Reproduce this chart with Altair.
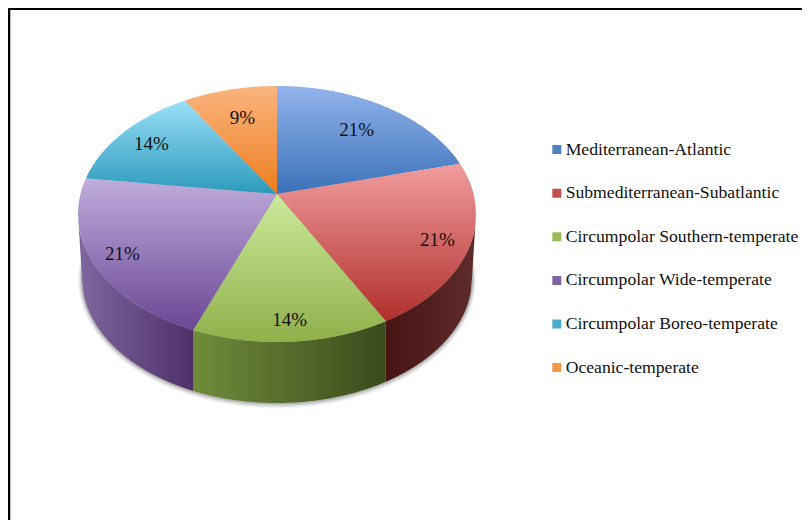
import numpy as np
import pandas as pd
import altair as alt

categories = ["Mediterranean-Atlantic", "Submediterranean-Subatlantic", "Circumpolar Southern-temperate",
              "Circumpolar Wide-temperate", "Circumpolar Boreo-temperate", "Oceanic-temperate"]
values = [21, 21, 14, 21, 14, 9]
legend_colors = ["#4F81BD", "#C0504D", "#9BBB59", "#8064A2", "#4BACC6", "#F79646"]
top_light = ["#93B3EC", "#F19D9D", "#CBEA9B", "#BFACDB", "#9ADFF8", "#FAB57F"]
top_dark = ["#3A72B8", "#B02F2C", "#8FB04A", "#6B4795", "#2C9ABB", "#ED7D1F"]
wall_left = {1: "#461412", 2: "#708C3A", 3: "#80679F"}
wall_right = {1: "#5E2C2A", 2: "#3A4A1C", 3: "#4F3069"}

# Projection of the tilted pie onto the picture
CX, CY, RX, RY = 277.0, 214.0, 199.0, 128.0
APEX_Y = 194.0
BX, BCY, BRY = 195.0, 278.0, 125.0
K = RY / RX
SHADE = [(1, 0.22), (2, 0.16), (3, 0.10), (4, 0.06)]
LABEL_REACH = [0.648, 0.876, 0.978, 0.905, 0.75, 0.63]

def ray(theta):
    return np.sin(theta), -K * np.cos(theta)

def rim(theta):
    u, v = ray(theta)
    a = u ** 2 + (v * RX / RY) ** 2
    b = 2 * (v * RX / RY) * ((APEX_Y - CY) / RY)
    c = ((APEX_Y - CY) / RY) ** 2 - 1
    s = (-b + np.sqrt(b * b - 4 * a * c)) / (2 * a)
    return CX + s * u * RX, APEX_Y + s * v * RX

def slice_rows(poly, n=320):
    poly = np.array(poly)
    xs = np.linspace(poly[:, 0].min(), poly[:, 0].max(), n)
    rows = []
    nxt = np.roll(poly, -1, axis=0)
    for x in xs:
        hits = []
        for (x1, y1), (x2, y2) in zip(poly, nxt):
            if min(x1, x2) - 1e-9 <= x <= max(x1, x2) + 1e-9:
                if abs(x2 - x1) < 1e-9:
                    hits += [y1, y2]
                else:
                    hits.append(y1 + (x - x1) / (x2 - x1) * (y2 - y1))
        rows.append({"x": x, "y": min(hits), "y2": max(hits)})
    return pd.DataFrame(rows)

X = alt.X("x:Q", axis=None, scale=alt.Scale(domain=[8, 802], range=[0, 794], nice=False, zero=False))
Y = alt.Y("y:Q", axis=None, scale=alt.Scale(domain=[8, 520], range=[0, 512], nice=False, zero=False))

def band(df, fill, **kw):
    return alt.Chart(df).mark_area(orient="vertical", interpolate="linear", fill=fill, **kw).encode(x=X, y=Y, y2="y2:Q")

def grad(c1, c2, horizontal=False):
    stops = [alt.GradientStop(color=c1, offset=0), alt.GradientStop(color=c2, offset=1)]
    if horizontal:
        return alt.Gradient(gradient="linear", stops=stops, x1=0, x2=1, y1=0, y2=0)
    return alt.Gradient(gradient="linear", stops=stops, x1=0, x2=0, y1=0, y2=1)

edges = np.cumsum([0] + values) / sum(values) * 2 * np.pi
layers = []

# soft shadow below the drum: the lower ellipse, slightly enlarged and hidden by the drum above its widest line
for grow, op in SHADE:
    xs = CX + (BX + grow) * np.cos(np.linspace(np.pi, 0, 400))
    half = (BRY + grow) * np.sqrt(np.clip(1 - ((xs - CX) / (BX + grow)) ** 2, 0, 1))
    cy = BCY + grow * 0.4
    layers.append(band(pd.DataFrame({"x": xs, "y": cy - half, "y2": cy + half}), "#555555", opacity=op))

# drum walls
def bottom_y(x):
    return BCY + BRY * np.sqrt(np.clip(1 - ((x - CX) / BX) ** 2, 0, 1))

for i in (1, 2, 3):
    a, b = edges[i], edges[i + 1]
    pa, pb = rim(a), rim(b)
    if i == 1:
        t = np.linspace(np.pi / 2, np.arccos((pb[1] - CY) / RY * -1), 60)
        upper = [(CX + RX * np.sin(q), CY - RY * np.cos(q)) for q in t]
        low_x = np.linspace(pb[0], CX + BX, 60)
    elif i == 2:
        t = np.linspace(np.arcsin((pa[0] - CX) / RX), np.arcsin((pb[0] - CX) / RX), 60)
        upper = [(CX + RX * np.sin(q), CY + RY * np.cos(q)) for q in t]
        low_x = np.linspace(pb[0], pa[0], 60)
    else:
        t = np.linspace(np.arcsin((pa[0] - CX) / RX), -np.pi / 2, 60)
        upper = [(CX + RX * np.sin(q), CY + RY * np.cos(q)) for q in t]
        low_x = np.linspace(CX - BX, pa[0], 60)
    lower = [(x, bottom_y(x)) for x in low_x]
    layers.append(band(slice_rows(upper + lower), grad(wall_left[i], wall_right[i], True)))

# top face
for i in range(len(values)):
    arc = [rim(q) for q in np.linspace(edges[i], edges[i + 1], 120)]
    poly = [(CX, APEX_Y)] + arc
    layers.append(band(slice_rows(poly), grad(top_light[i], top_dark[i])))

# percentage labels
rows = []
for i, v in enumerate(values):
    mid = (edges[i] + edges[i + 1]) / 2
    u, v2 = ray(mid)
    rows.append({"x": CX + LABEL_REACH[i] * u * RX, "y": APEX_Y + LABEL_REACH[i] * v2 * RX, "label": f"{v}%"})
layers.append(alt.Chart(pd.DataFrame(rows)).mark_text(font="Liberation Serif", fontSize=19, color="#111111",
                                                      align="center", baseline="middle", dy=1.5, dx=0.5)
              .encode(x=X, y=Y, text="label:N"))

# frame
frame = pd.DataFrame({"p": [0]})
layers.append(alt.Chart(frame).mark_rule(color="#000000", strokeWidth=2).encode(
    x=alt.value(0), x2=alt.value(794), y=alt.value(1)))
layers.append(alt.Chart(frame).mark_rule(color="#000000", strokeWidth=2).encode(
    x=alt.value(1), y=alt.value(0), y2=alt.value(512)))
layers.append(alt.Chart(frame).mark_rule(color="#BBBBBB", strokeWidth=1).encode(
    x=alt.value(2.5), y=alt.value(2), y2=alt.value(512)))

# legend
leg = pd.DataFrame({"category": categories})
layers.append(alt.Chart(leg).mark_square(size=0, opacity=0).encode(
    color=alt.Color("category:N", sort=categories,
                    scale=alt.Scale(domain=categories, range=legend_colors),
                    legend=alt.Legend(title=None, orient="none", legendX=540, legendY=132.6,
                                      symbolType="square", symbolSize=81, symbolOpacity=1,
                                      symbolStrokeWidth=0, labelFont="Liberation Serif",
                                      labelFontSize=17.65, labelColor="#111111", labelLimit=300,
                                      rowPadding=25.6, labelOffset=0, padding=0, clipHeight=18))))

chart = alt.layer(*layers).properties(
    width=794, height=512, padding=0, autosize=alt.AutoSizeParams(type="none")
).configure_view(stroke=None)

chart.save("out.html", embed_options={"renderer": "svg", "actions": False})
